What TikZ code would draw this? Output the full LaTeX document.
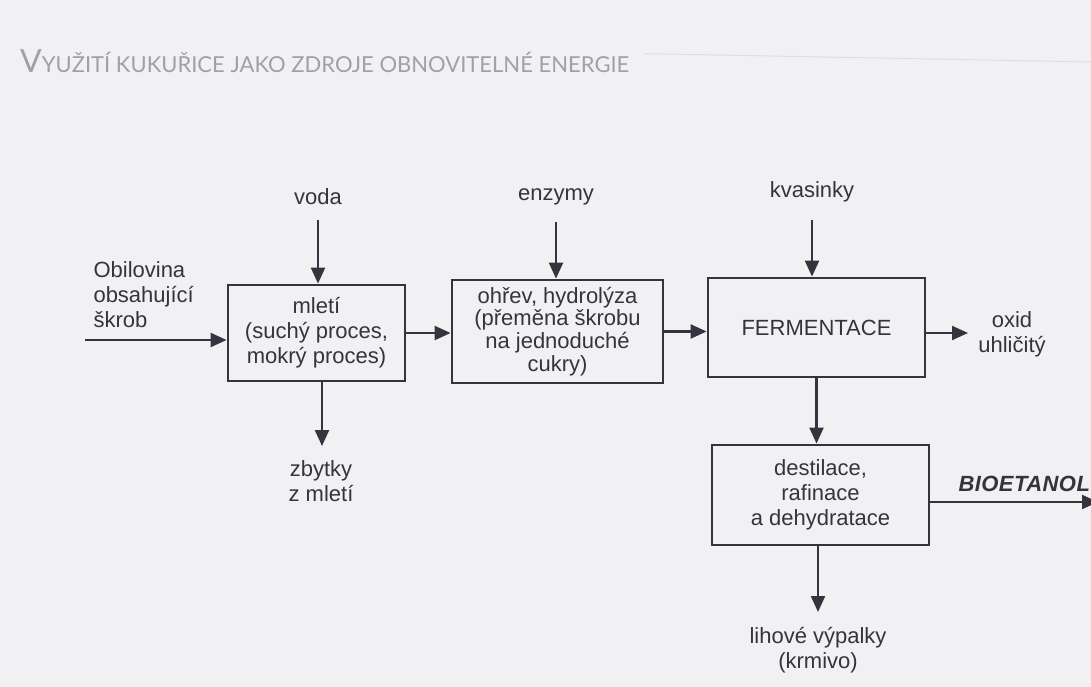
\documentclass[tikz,border=0pt]{standalone}
\usepackage{fontspec}
\setmainfont{Liberation Sans}
\newfontfamily\titlefont{Lato}
\usetikzlibrary{arrows.meta}
\definecolor{ink}{RGB}{52,52,62}
\definecolor{paper}{RGB}{241,241,243}
\definecolor{titlegray}{RGB}{160,160,168}
\begin{document}
\begin{tikzpicture}[x=1pt, y=-1pt, >={Triangle[length=16pt,width=14pt]},
  box/.style={draw=ink, line width=2.8pt, align=center, inner sep=0pt},
  lbl/.style={text=ink, align=center, font=\fontsize{22}{25}\selectfont},
  flow/.style={draw=ink, line width=2.2pt, ->}]
\fill[paper] (0,0) rectangle (1091,687);
\useasboundingbox (0,0) rectangle (1091,687);
% title
\node[anchor=base west, inner sep=0pt, text=titlegray] (title) at (20,73)
  {\titlefont\fontsize{32}{32}\selectfont V\fontsize{22}{22}\selectfont YUŽITÍ KUKUŘICE JAKO ZDROJE OBNOVITELNÉ ENERGIE};
\draw[titlegray!35, line width=1pt] (title.east) ++(15,-8) -- (1091,62);
% boxes
\node[box, lbl, minimum width=177pt, minimum height=96pt] (mleti) at (316.5,333) {mletí\\(suchý proces,\\mokrý proces)};
\node[box, lbl, minimum width=211pt, minimum height=103pt, font=\fontsize{22}{22.7}\selectfont] (hydro) at (557.5,331.5) {ohřev, hydrolýza\\(přeměna škrobu\\na jednoduché\\cukry)};
\node[box, lbl, minimum width=217pt, minimum height=99pt] (ferm) at (816.5,327.5) {FERMENTACE};
\node[box, lbl, minimum width=217pt, minimum height=100pt] (dest) at (820.5,495) {destilace,\\rafinace\\a dehydratace};
% labels
\node[lbl] (voda) at (318,197) {voda};
\node[lbl] (enz) at (556,197) {enzymy};
\node[lbl] (kvas) at (812,192) {kvasinky};
\node[lbl, align=left, anchor=west] (obil) at (90,295) {Obilovina\\obsahující\\škrob};
\node[lbl] (zbytky) at (321,481) {zbytky\\z mletí};
\node[lbl] (oxid) at (1012,334) {oxid\\uhličitý};
\node[lbl] (lihove) at (818,650) {lihové výpalky\\(krmivo)};
\node[lbl, anchor=west, font=\fontsize{22}{25}\selectfont\bfseries\itshape\addfontfeature{LetterSpace=2}] (bio) at (955,484) {BIOETANOL};
% free ends
\coordinate (in0) at (85,340);
\coordinate (v0) at (318,220);
\coordinate (e0) at (556,222);
\coordinate (k0) at (812,220);
\coordinate (co2) at (968,333);
\coordinate (zb) at (322,446);
\coordinate (lv) at (818,612);
\coordinate (out) at (1098,502);
% arrows
\draw[flow] (in0) -- (in0 -| mleti.west);
\draw[flow] (v0) -- (v0 |- mleti.north);
\draw[flow] (e0) -- (e0 |- hydro.north);
\draw[flow] (k0) -- (k0 |- ferm.north);
\draw[flow] (mleti.east) -- (mleti.east -| hydro.west);
\draw[flow] (hydro.east) -- (hydro.east -| ferm.west);
\draw[flow] (ferm.east |- co2) -- (co2);
\draw[flow] (ferm.south) -- (ferm.south |- dest.north);
\draw[flow] (mleti.south -| zb) -- (zb);
\draw[flow] (dest.south -| lv) -- (lv);
\draw[flow] (dest.east |- out) -- (out);
\end{tikzpicture}
\end{document}
